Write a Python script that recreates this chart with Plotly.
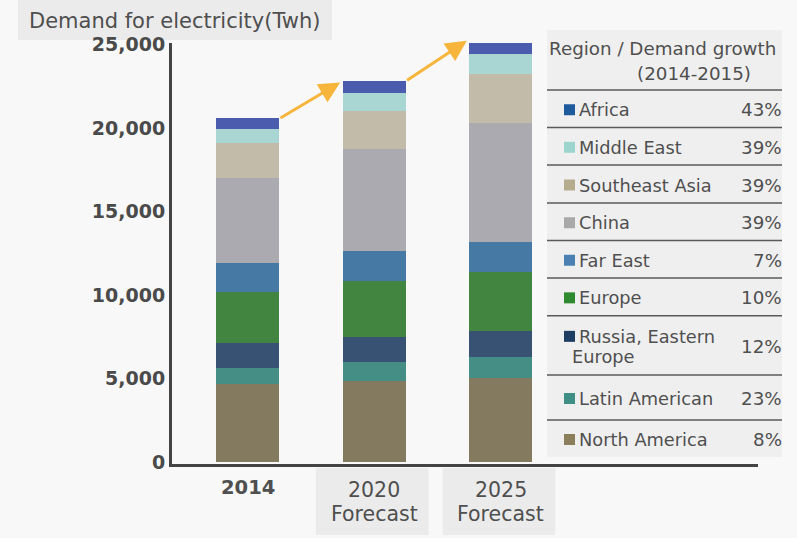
import plotly.graph_objects as go

# ---------------- data ----------------
years = ["2014", "2020", "2025"]
year_notes = ["", "Forecast", "Forecast"]

regions_bottom_up = ["North America", "Latin American", "Russia, Eastern Europe", "Europe",
                     "Far East", "China", "Southeast Asia", "Middle East", "Africa"]
north_america = [4650, 4850, 5010]
latin_american = [1000, 1160, 1300]
russia_eastern_europe = [1460, 1460, 1530]
europe = [3090, 3370, 3520]
far_east = [1730, 1790, 1830]
china = [5060, 6110, 7090]
southeast_asia = [2130, 2300, 2950]
middle_east = [800, 1040, 1180]
africa = [660, 750, 920]

legend_regions = ["Africa", "Middle East", "Southeast Asia", "China", "Far East", "Europe",
                  "Russia, Eastern<br>Europe", "Latin American", "North America"]
legend_growth = ["43%", "39%", "39%", "39%", "7%", "10%", "12%", "23%", "8%"]

y_ticks = [0, 5000, 10000, 15000, 20000, 25000]

# ---------------- styles ----------------
series = [north_america, latin_american, russia_eastern_europe, europe, far_east,
          china, southeast_asia, middle_east, africa]
bar_colors = ["#847a60", "#448e86", "#375272", "#428540", "#4779a5",
              "#abaab0", "#c3bbaa", "#a9d6d3", "#4b5cae"]
legend_marker_colors = {"Africa": "#1f5a9c", "Middle East": "#9dd4cd", "Southeast Asia": "#b5ab8d",
                        "China": "#a9a9a9", "Far East": "#4a80b2", "Europe": "#2f8a2f",
                        "Russia, Eastern<br>Europe": "#1d3d63", "Latin American": "#3f8f86",
                        "North America": "#8b7e5a"}
FONT = "DejaVu Sans"
TXT = "#4f4f4f"
BG = "#f7f8f7"

W, H = 797, 538
ML, MR, MT, MB = 172, 39, 43, 74
PW, PH = W - ML - MR, H - MT - MB


def px(x):
    return (x - ML) / PW


def py(y):
    return (H - MB - y) / PH


xpos = list(range(len(years)))
BAR_W = 0.497

fig = go.Figure()
for name, vals, col in zip(regions_bottom_up, series, bar_colors):
    fig.add_trace(go.Bar(x=xpos, y=vals, name=name, marker=dict(color=col, line=dict(width=0)),
                         width=BAR_W, hovertemplate=name + ": %{y:,}<extra></extra>"))

totals = [sum(s[i] for s in series) for i in range(len(years))]

shapes = []
annotations = []

# title box
shapes.append(dict(type="rect", xref="paper", yref="paper", x0=px(18), x1=px(332), y0=py(40), y1=py(0),
                   fillcolor="#ebebeb", line=dict(width=0), layer="below"))
annotations.append(dict(xref="paper", yref="paper", x=px(27), y=py(21), xanchor="left", yanchor="middle",
                        text="Demand for electricity(Twh)", showarrow=False,
                        font=dict(family=FONT, size=21, color=TXT)))

# arrows between bar tops
for i in range(len(years) - 1):
    annotations.append(dict(x=xpos[i + 1] - BAR_W / 2 - 0.02, y=totals[i + 1] - 100,
                            ax=xpos[i] + BAR_W / 2, ay=totals[i] - 30,
                            xref="x", yref="y", axref="x", ayref="y", text="",
                            showarrow=True, arrowhead=2, arrowsize=1.4, arrowwidth=3,
                            arrowcolor="#f7b53b"))

# x labels
for i, (yr, note) in enumerate(zip(years, year_notes)):
    if note:
        shapes.append(dict(type="rect", xref="x", yref="paper", x0=xpos[i] - 0.46, x1=xpos[i] + 0.43,
                           y0=py(535), y1=py(468), fillcolor="#ebebeb", line=dict(width=0), layer="below"))
        annotations.append(dict(x=xpos[i], y=py(490), xref="x", yref="paper", showarrow=False,
                                text=yr, xanchor="center", yanchor="middle",
                                font=dict(family=FONT, size=20.5, color=TXT)))
        annotations.append(dict(x=xpos[i], y=py(514), xref="x", yref="paper", showarrow=False,
                                text=note, xanchor="center", yanchor="middle",
                                font=dict(family=FONT, size=20.5, color=TXT)))
    else:
        annotations.append(dict(x=xpos[i], y=py(487), xref="x", yref="paper", showarrow=False,
                                text=yr, xanchor="center", yanchor="middle",
                                font=dict(family=FONT, size=19.5, color=TXT, weight="bold")))

# legend table
TL, TR = 547, 782
shapes.append(dict(type="rect", xref="paper", yref="paper", x0=px(TL), x1=px(TR), y0=py(457), y1=py(30),
                   fillcolor="#efefef", line=dict(width=0), layer="above"))
annotations.append(dict(xref="paper", yref="paper", x=px(547), y=py(48), xanchor="left", yanchor="middle",
                        text="Region / Demand growth", showarrow=False,
                        font=dict(family=FONT, size=18.3, color=TXT)))
annotations.append(dict(xref="paper", yref="paper", x=px(753), y=py(73), xanchor="right", yanchor="middle",
                        text="(2014-2015)", showarrow=False, font=dict(family=FONT, size=18.3, color=TXT)))
row_bounds = [90, 127.5, 165, 203, 240.5, 278, 315.7, 375, 420, 457]
for yb in row_bounds[:-1]:
    shapes.append(dict(type="line", xref="paper", yref="paper", x0=px(TL), x1=px(TR), y0=py(yb), y1=py(yb),
                       line=dict(color="#5a5a5a", width=1.5), layer="above"))
for k, (reg, g) in enumerate(zip(legend_regions, legend_growth)):
    top, bot = row_bounds[k], row_bounds[k + 1]
    cy = (top + bot) / 2 + 1
    parts = reg.split("<br>")
    first_y = cy if len(parts) == 1 else cy - 10
    shapes.append(dict(type="rect", xref="paper", yref="paper", x0=px(564), x1=px(575),
                       y0=py(first_y + 5.5), y1=py(first_y - 5.5),
                       fillcolor=legend_marker_colors[reg], line=dict(width=0), layer="above"))
    annotations.append(dict(xref="paper", yref="paper", x=px(577), y=py(first_y), xanchor="left",
                            yanchor="middle", text=parts[0], showarrow=False,
                            font=dict(family=FONT, size=17.8, color=TXT)))
    if len(parts) > 1:
        annotations.append(dict(xref="paper", yref="paper", x=px(570), y=py(first_y + 20), xanchor="left",
                                yanchor="middle", text=parts[1], showarrow=False,
                                font=dict(family=FONT, size=17.8, color=TXT)))
    annotations.append(dict(xref="paper", yref="paper", x=px(784), y=py(cy), xanchor="right",
                            yanchor="middle", text=g, showarrow=False,
                            font=dict(family=FONT, size=18.3, color=TXT)))

fig.update_layout(
    width=W, height=H, barmode="stack", showlegend=False,
    margin=dict(l=ML, r=MR, t=MT, b=MB, pad=0),
    paper_bgcolor=BG, plot_bgcolor=BG,
    shapes=shapes, annotations=annotations,
    xaxis=dict(range=[-0.596, 4.03], showticklabels=False, showgrid=False, zeroline=False,
               showline=True, linecolor="#444444", linewidth=3, ticks=""),
    yaxis=dict(range=[-120, 25090], tickvals=y_ticks, tickformat=",", showgrid=False, zeroline=False,
               showline=True, linecolor="#444444", linewidth=3, ticks="",
               tickfont=dict(family=FONT, size=19, color="#4a4a4a", weight="bold")),
)

fig.write_html("out.html")
